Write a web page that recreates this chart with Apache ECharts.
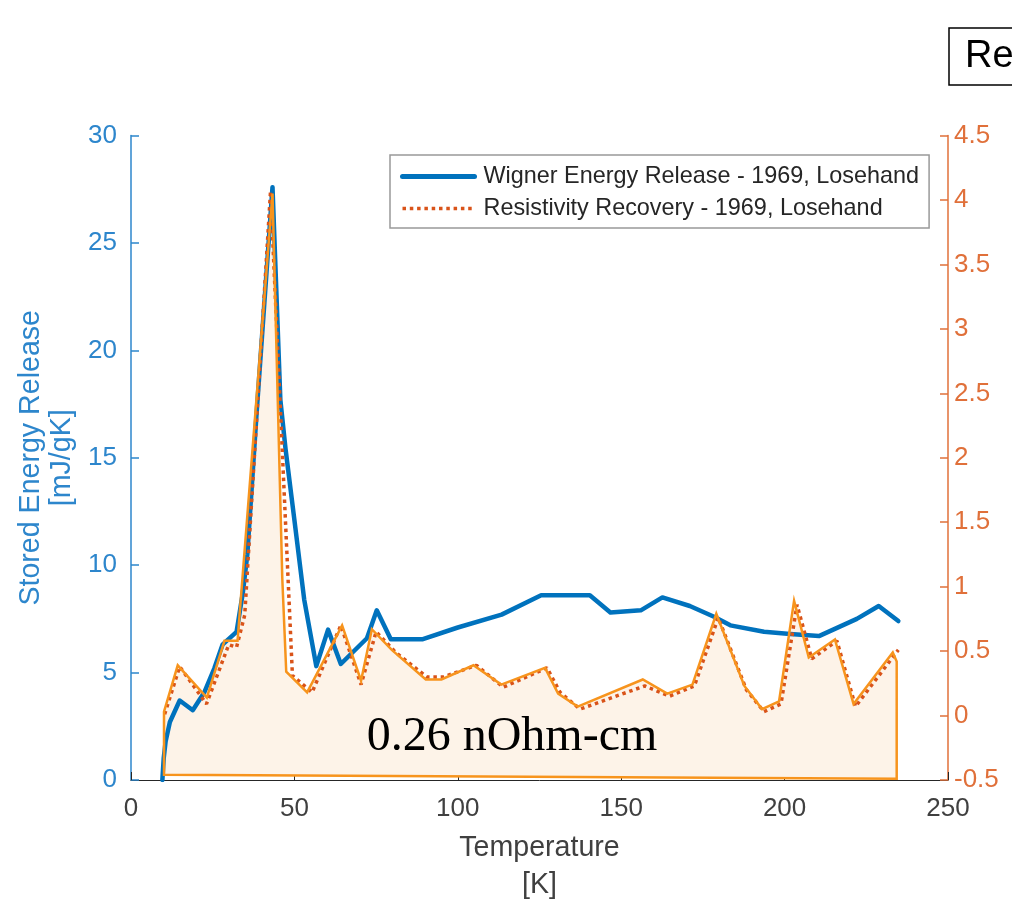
<!DOCTYPE html>
<html>
<head>
<meta charset="utf-8">
<script src="https://cdn.jsdelivr.net/npm/echarts@6/dist/echarts.min.js"></script>
<style>
  html, body { margin: 0; padding: 0; background: #ffffff; }
  #chart { width: 1012px; height: 902px; }
</style>
</head>
<body>
<div id="chart"></div>
<script>
// Wigner energy release (left axis, mJ/gK) vs temperature (K)
const wignerT = [9.6, 10.0, 10.6, 11.9, 14.9, 18.9, 22.5, 25.5, 28.0, 32.3, 34.2, 35.6, 38.4, 43.3,
  45.7, 47.3, 50.0, 53.0, 56.7, 60.3, 64.2, 72.2, 75.2, 79.5, 89.1, 100.0, 113.4, 125.5, 140.4,
  146.7, 156.0, 162.6, 171.0, 178.4, 183.4, 193.7, 201.7, 210.5, 222.1, 228.8, 234.8];
const wignerE = [0, 1.0, 1.8, 2.7, 3.7, 3.25, 4.1, 5.2, 6.3, 6.9, 8.7, 10.5, 17.0, 27.6,
  17.7, 15.4, 12.1, 8.4, 5.3, 7.0, 5.4, 6.6, 7.9, 6.55, 6.55, 7.1, 7.7, 8.6, 8.6,
  7.8, 7.9, 8.5, 8.1, 7.6, 7.2, 6.9, 6.8, 6.7, 7.5, 8.1, 7.4];

// Resistivity recovery (right axis) vs temperature (K)
const resistT = [10.3, 14.9, 23.1, 29.9, 32.3, 34.8, 42.7, 49.4, 55.4, 64.2, 70.4, 75.0, 81.0,
  90.5, 95.6, 105.7, 113.9, 127.3, 131.3, 137.4, 157.2, 164.8, 172.4, 179.7, 188.3, 193.7,
  198.9, 203.8, 208.3, 216.0, 221.7, 234.8];
const resistR = [0.01, 0.38, 0.09, 0.55, 0.53, 0.78, 4.07, 0.31, 0.18, 0.70, 0.24, 0.65, 0.49,
  0.30, 0.30, 0.39, 0.22, 0.37, 0.18, 0.05, 0.23, 0.15, 0.23, 0.76, 0.20, 0.03,
  0.09, 0.86, 0.44, 0.58, 0.07, 0.51];

// Shaded region under the resistivity curve (right axis units)
const shadeT = [10.1, 10.1, 14.3, 23.2, 28.6, 32.6, 43.3, 46.3, 47.5, 53.9, 64.6, 70.4, 73.7,
  79.8, 90.2, 95.0, 104.8, 113.3, 126.7, 130.7, 136.7, 156.6, 164.1, 171.8, 179.1, 187.7,
  193.1, 198.3, 202.9, 207.4, 215.4, 221.1, 233.1, 234.3, 234.3];
const shadeR = [-0.46, 0.03, 0.39, 0.14, 0.58, 0.58, 4.05, 1.06, 0.34, 0.18, 0.70, 0.27, 0.67,
  0.51, 0.28, 0.28, 0.39, 0.24, 0.37, 0.17, 0.07, 0.28, 0.17, 0.24, 0.79, 0.23,
  0.05, 0.11, 0.89, 0.45, 0.59, 0.09, 0.49, 0.42, -0.49];

const xTicks = [0, 250, 50];       // min, max, step
const leftTicks = [0, 30, 5];
const rightTicks = [-0.5, 4.5, 0.5];

const wignerName = 'Wigner Energy Release - 1969, Losehand';
const resistName = 'Resistivity Recovery - 1969, Losehand';
const annotation = '0.26 nOhm-cm';
const boxText = 'Re';

const BLUE = '#0072BD';
const RED = '#D95319';
const SHADE_LINE = '#F7941D';
const SHADE_FILL = '#FDF3E8';
const SANS = '"Liberation Sans", Arial, sans-serif';

const chart = echarts.init(document.getElementById('chart'), null, { renderer: 'canvas' });

function shapePoints(api) {
  return shadeT.map((t, i) => api.coord([t, shadeR[i]]));
}

const option = {
  backgroundColor: '#ffffff',
  animation: false,
  grid: { left: 131, right: 64, top: 135.6, bottom: 122, containLabel: false, outerBoundsMode: 'none' },
  legend: {
    data: [
      { name: wignerName, lineStyle: { width: 5, color: BLUE } },
      { name: resistName, lineStyle: { width: 3.5, color: RED, type: [3.5, 3.8] } }
    ],
    orient: 'vertical',
    left: 390, top: 155,
    backgroundColor: '#ffffff',
    borderColor: '#999999', borderWidth: 1.5,
    padding: [10, 10, 8, 10],
    itemGap: 9,
    itemWidth: 72, itemHeight: 14,
    itemStyle: { opacity: 0, color: 'rgba(0,0,0,0)', borderWidth: 0 },
    textStyle: { fontFamily: SANS, fontSize: 23.4, color: '#262626', padding: [0, 0, 0, 4] }
  },
  xAxis: {
    type: 'value',
    min: xTicks[0], max: xTicks[1], interval: xTicks[2],
    name: 'Temperature\n[K]',
    nameLocation: 'middle', nameGap: 50,
    nameTextStyle: { fontFamily: SANS, fontSize: 28.6, color: '#404040', lineHeight: 37, verticalAlign: 'top' },
    axisLine: { show: true, lineStyle: { color: '#262626', width: 1 } },
    axisTick: { show: true, inside: true, length: 8, lineStyle: { color: '#262626' } },
    axisLabel: { fontFamily: SANS, fontSize: 26, color: '#404040', margin: 16 },
    splitLine: { show: false }
  },
  yAxis: [
    {
      type: 'value', position: 'left',
      min: leftTicks[0], max: leftTicks[1], interval: leftTicks[2],
      name: 'Stored Energy Release\n[mJ/gK]',
      nameLocation: 'middle', nameRotate: 90, nameGap: 51,
      nameTextStyle: { fontFamily: SANS, fontSize: 28.6, color: '#2d86cc', lineHeight: 31 },
      axisLine: { show: true, lineStyle: { color: '#2d86cc', width: 1.5 } },
      axisTick: { show: true, inside: true, length: 8, lineStyle: { color: '#2d86cc', width: 1.5 } },
      axisLabel: { fontFamily: SANS, fontSize: 26, color: '#2d86cc', margin: 14 },
      splitLine: { show: false }
    },
    {
      type: 'value', position: 'right',
      min: rightTicks[0], max: rightTicks[1], interval: rightTicks[2],
      axisLine: { show: true, lineStyle: { color: '#E0703A', width: 1.5 } },
      axisTick: { show: true, inside: true, length: 8, lineStyle: { color: '#E0703A', width: 1.5 } },
      axisLabel: { fontFamily: SANS, fontSize: 26, color: '#E0703A', margin: 6 },
      splitLine: { show: false }
    }
  ],
  series: [
    {
      // cream fill of the shaded region
      type: 'custom', yAxisIndex: 1, silent: true, z: 1,
      data: [[10.1, 0]],
      renderItem: function (params, api) {
        return { type: 'polygon', shape: { points: shapePoints(api) },
                 style: { fill: SHADE_FILL, stroke: null } };
      }
    },
    {
      name: wignerName,
      type: 'line', yAxisIndex: 0, z: 2,
      data: wignerT.map((t, i) => [t, wignerE[i]]),
      symbol: 'none', showSymbol: false,
      lineStyle: { color: BLUE, width: 4.5, join: 'round', cap: 'round' },
      itemStyle: { color: BLUE }
    },
    {
      name: resistName,
      type: 'line', yAxisIndex: 1, z: 3,
      data: resistT.map((t, i) => [t, resistR[i]]),
      symbol: 'none', showSymbol: false,
      lineStyle: { color: RED, width: 3.5, type: [3.5, 3.8] },
      itemStyle: { color: RED }
    },
    {
      // orange outline of the shaded region
      type: 'custom', yAxisIndex: 1, silent: true, z: 4,
      data: [[10.1, 0]],
      renderItem: function (params, api) {
        return { type: 'polygon', shape: { points: shapePoints(api) },
                 style: { fill: null, stroke: SHADE_LINE, lineWidth: 2.5, lineJoin: 'miter' } };
      }
    }
  ],
  graphic: [
    {
      type: 'text', x: 512, y: 737, z: 100,
      style: { text: annotation, font: '48px "Liberation Serif", "Times New Roman", serif',
               fill: '#000000', textAlign: 'center', textVerticalAlign: 'middle' }
    },
    {
      type: 'rect', z: 100,
      shape: { x: 949, y: 28, width: 120, height: 57 },
      style: { fill: '#ffffff', stroke: '#000000', lineWidth: 1.5 }
    },
    {
      type: 'text', x: 965, y: 57, z: 101,
      style: { text: boxText, font: '38px ' + SANS, fill: '#000000', textAlign: 'left', textVerticalAlign: 'middle' }
    }
  ]
};

chart.setOption(option);
</script>
</body>
</html>
